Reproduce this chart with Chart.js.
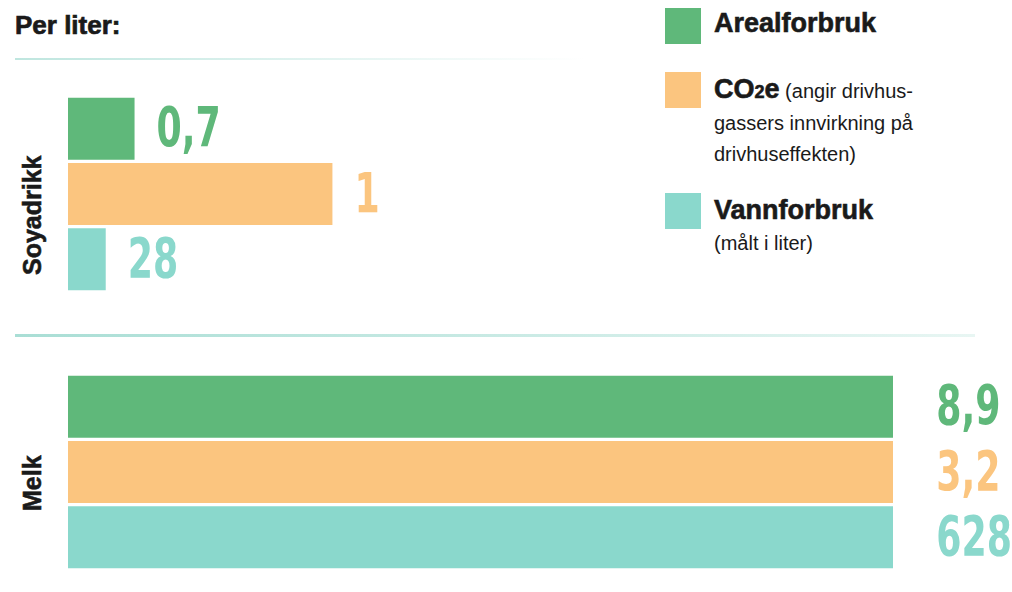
<!DOCTYPE html>
<html><head><meta charset="utf-8">
<script src="https://cdn.jsdelivr.net/npm/chart.js@4"></script>
<style>
body{margin:0;width:1012px;height:592px;background:#fff;position:relative;overflow:hidden;font-family:"Liberation Sans",Arial,sans-serif;color:#1a1a1a}
.abs{position:absolute}
.sq{position:absolute;left:665px;width:36px;height:36px}
.lg{position:absolute;left:714px;font-size:20px;line-height:31px}
.lg b{font-size:27px;-webkit-text-stroke:0.6px #1a1a1a}
.rot{position:absolute;font-weight:bold;font-size:25px;transform:rotate(-90deg);transform-origin:left top;white-space:nowrap;-webkit-text-stroke:0.6px #1a1a1a}
</style></head><body>
<div class="abs" style="left:15px;top:10px;font-weight:bold;font-size:26px;-webkit-text-stroke:0.7px #1a1a1a">Per liter:</div>
<div class="abs" style="left:15px;top:58px;width:570px;height:2px;background:linear-gradient(90deg,#bfe6df,#fff)"></div>
<div class="abs" style="left:15px;top:334px;width:960px;height:3px;background:linear-gradient(90deg,#a9ded5,#e8f6f3)"></div>
<div class="rot" style="left:18px;top:275px">Soyadrikk</div>
<div class="rot" style="left:18px;top:511px">Melk</div>
<div class="sq" style="top:8px;background:#5fb87a"></div>
<div class="sq" style="top:72px;background:#fbc57f"></div>
<div class="sq" style="top:193px;background:#8ad8cc"></div>
<div class="lg" style="top:8px"><b>Arealforbruk</b></div>
<div class="lg" style="top:74px"><b>CO<span style="font-size:18px">2</span>e</b> (angir drivhus-<br>gassers innvirkning på<br>drivhuseffekten)</div>
<div class="lg" style="top:195px"><b>Vannforbruk</b><br>(målt i liter)</div>
<div class="abs" style="left:68px;top:96px;width:944px;height:196px"><canvas id="c1"></canvas></div>
<div class="abs" style="left:68px;top:374px;width:944px;height:196px"><canvas id="c2"></canvas></div>
<script>
const metrics=["Arealforbruk","CO2e","Vannforbruk"];
const soyValues=[0.7,1,28];
const milkValues=[8.9,3.2,628];
const soyLabels=["0,7","1","28"];
const milkLabels=["8,9","3,2","628"];
const colors=["#5fb87a","#fbc57f","#8ad8cc"];
function mk(id,vals,labels){
  const pct=vals.map((v,i)=>v/milkValues[i]*100);
  new Chart(document.getElementById(id),{type:'bar',
    data:{labels:metrics,datasets:[{data:pct,backgroundColor:colors,barPercentage:0.95,categoryPercentage:1}]},
    options:{indexAxis:'y',responsive:true,maintainAspectRatio:false,animation:false,
      layout:{padding:{right:119,left:0,top:0,bottom:0}},
      plugins:{legend:{display:false},tooltip:{enabled:false}},
      scales:{x:{display:false,min:0,max:97.5},y:{display:false}}},
    plugins:[{id:'vl',afterDatasetsDraw(ch){const c=ch.ctx;
      ch.getDatasetMeta(0).data.forEach((b,i)=>{c.save();
        c.font='bold 56px "DejaVu Sans Condensed","Liberation Sans Narrow",sans-serif';c.textBaseline='middle';
        c.translate(b.x+22,b.y+3);c.scale(0.72,1);
        c.fillStyle=colors[i];c.fillText(labels[i],0,0);c.restore();});
      }}]
  });
}
mk('c1',soyValues,soyLabels);
mk('c2',milkValues,milkLabels);
</script>
</body></html>
